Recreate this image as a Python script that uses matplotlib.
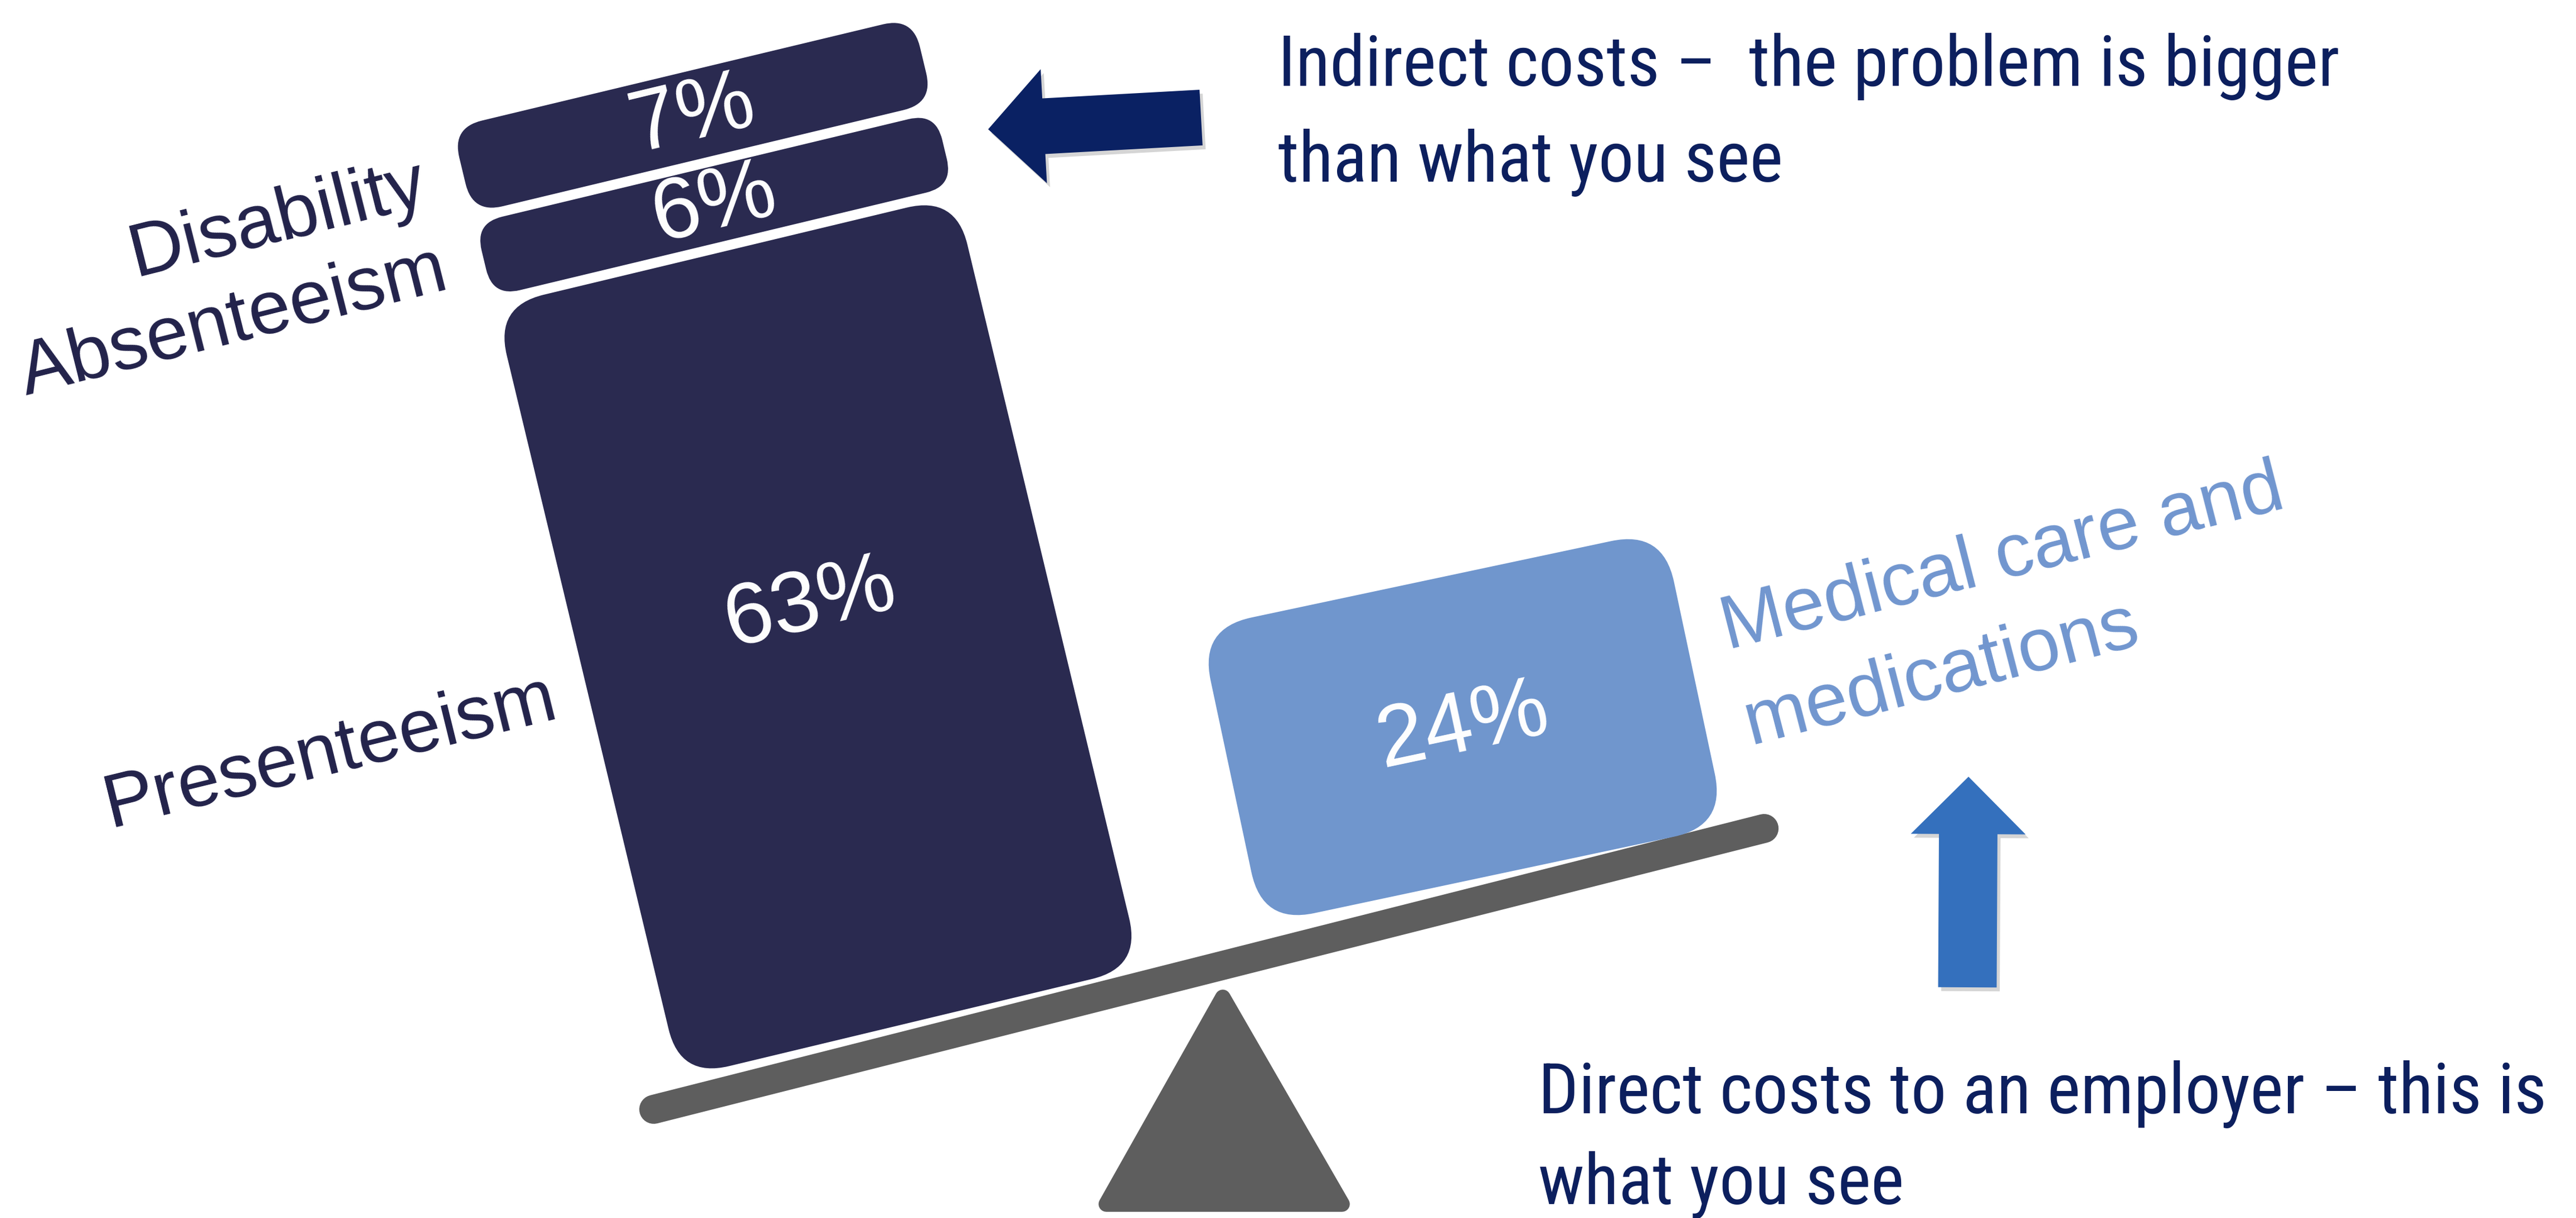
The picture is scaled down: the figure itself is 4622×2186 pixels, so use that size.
import numpy as np
import matplotlib
matplotlib.use("Agg")
import matplotlib.pyplot as plt
from matplotlib.patches import FancyBboxPatch, FancyArrow, Polygon
from matplotlib.transforms import Affine2D
from matplotlib import patheffects as pe
from matplotlib import font_manager as fm

# ---------------- data ----------------
indirect_labels = ["Presenteeism", "Absenteeism", "Disability"]   # stacked bottom -> top
indirect_values = [63, 6, 7]
direct_labels = ["Medical care and", "medications"]
direct_values = [24]
top_note = ["Indirect costs \u2013  the problem is bigger", "than what you see"]
bottom_note = ["Direct costs to an employer \u2013 this is", "what you see"]

# ---------------- style ----------------
W, H = 4622, 2186
DARK = "#2a2a50"
LIGHT = "#7096cd"
GREY = "#5e5e5e"
NAVY = "#0c1f5e"
LABEL_DARK = "#22224a"
LABEL_LIGHT = "#7196cf"
ARROW_DARK = "#0a2163"
ARROW_BLUE = "#3470bd"
BASE = "Liberation Sans"


def pick_narrow():
    for fam in ["Liberation Sans Narrow", "Arial Narrow", "Roboto Condensed",
                "Open Sans Condensed", "Noto Sans Condensed"]:
        try:
            fm.findfont(fm.FontProperties(family=fam), fallback_to_default=False)
            return fm.FontProperties(family=fam)
        except Exception:
            pass
    try:
        f = fm.findfont(fm.FontProperties(family="DejaVu Sans", stretch="condensed"),
                        fallback_to_default=False)
        if "ondensed" in f:
            return fm.FontProperties(fname=f)
    except Exception:
        pass
    return fm.FontProperties(family=BASE)


NARROW_FP = pick_narrow()

fig = plt.figure(figsize=(W / 100, H / 100), dpi=100)
ax = fig.add_axes([0, 0, 1, 1])
ax.set_xlim(0, W)
ax.set_ylim(0, H)
ax.axis("off")

# beam geometry (pixel units, y up)
THETA = 14.2
O = np.array([1173.0, 195.0])
BEAM_LEN = 2055
SCALE = 22.6          # pixels per percentage point
GAP = 18
BLOCK_W = 850
ct, st = np.cos(np.radians(THETA)), np.sin(np.radians(THETA))


def beam_pt(u, v):
    return O + u * np.array([ct, st]) + v * np.array([-st, ct])


# beam
end = beam_pt(BEAM_LEN, 0)
ax.plot([O[0], end[0]], [O[1], end[1]], color=GREY, lw=52 * 0.72,
        solid_capstyle="round", zorder=2)

# fulcrum
tri = Polygon([[2194, 396], [1985, 25], [2408, 25]], closed=True,
              facecolor=GREY, edgecolor=GREY, lw=20, joinstyle="round", zorder=2)
ax.add_patch(tri)


def draw_stack(values, u_center, angle, color, radii, label_y_shift):
    anchor = beam_pt(u_center, 38)
    tr = Affine2D().rotate_deg(angle).translate(anchor[0], anchor[1]) + ax.transData
    y0 = 0.0
    for val, r, dy in zip(values, radii, label_y_shift):
        h = val * SCALE
        p = FancyBboxPatch((-BLOCK_W / 2, y0), BLOCK_W, h,
                           boxstyle=f"round,pad=0,rounding_size={r}",
                           facecolor=color, edgecolor="none", transform=tr, zorder=3)
        ax.add_patch(p)
        cx, cy = tr.transform((0, y0 + h / 2 + dy))
        cx, cy = ax.transData.inverted().transform((cx, cy))
        ax.text(cx, cy, f"{val}%", color="white", fontsize=112, family=BASE,
                rotation=angle, rotation_mode="anchor", ha="center", va="center", zorder=4)
        y0 += h + GAP


draw_stack(indirect_values, 485, 13.5, DARK, [90, 50, 55], [60, 0, 0])
draw_stack(direct_values, 1565, 12.0, LIGHT, [95], [0])

# category labels
ax.text(198, 702, indirect_labels[0], color=LABEL_DARK, fontsize=98, family=BASE,
        rotation=13.8, rotation_mode="anchor", ha="left", va="baseline")
ax.text(46, 1478, indirect_labels[1], color=LABEL_DARK, fontsize=98, family=BASE,
        rotation=14.1, rotation_mode="anchor", ha="left", va="baseline")
ax.text(243, 1690, indirect_labels[2], color=LABEL_DARK, fontsize=98, family=BASE,
        rotation=14.1, rotation_mode="anchor", ha="left", va="baseline")
ax.text(3100, 1020, direct_labels[0], color=LABEL_LIGHT, fontsize=98, family=BASE,
        rotation=14.3, rotation_mode="anchor", ha="left", va="baseline")
ax.text(3141, 850, direct_labels[1], color=LABEL_LIGHT, fontsize=98, family=BASE,
        rotation=14.5, rotation_mode="anchor", ha="left", va="baseline")

# notes (size fitted so that the first line spans the measured width)
renderer = fig.canvas.get_renderer()


def note(lines, x, ys, target_w):
    objs = [ax.text(x, y, s, color=NAVY, fontproperties=NARROW_FP.copy(),
                    ha="left", va="baseline") for s, y in zip(lines, ys)]
    for t in objs:
        t.set_fontsize(100)
    w = objs[0].get_window_extent(renderer).width
    size = min(100 * target_w / w, 104)
    for t in objs:
        t.set_fontsize(size)


note(top_note, 2293, [2032, 1860], 1906)
note(bottom_note, 2760, [188, 25], 1809)

# arrows
shadow = [pe.SimplePatchShadow(offset=(4, -5), shadow_rgbFace="#888888", alpha=0.35), pe.Normal()]
a1 = FancyArrow(2155, 1975, -382, -21, width=100, head_width=205, head_length=100,
                length_includes_head=True, color=ARROW_DARK, lw=0, zorder=3)
a1.set_path_effects(shadow)
ax.add_patch(a1)
a2 = FancyArrow(3530, 414, 2, 378, width=105, head_width=206, head_length=103,
                length_includes_head=True, color=ARROW_BLUE, lw=0, zorder=3)
a2.set_path_effects(shadow)
ax.add_patch(a2)

fig.savefig("out.png", dpi=100, facecolor="white")
